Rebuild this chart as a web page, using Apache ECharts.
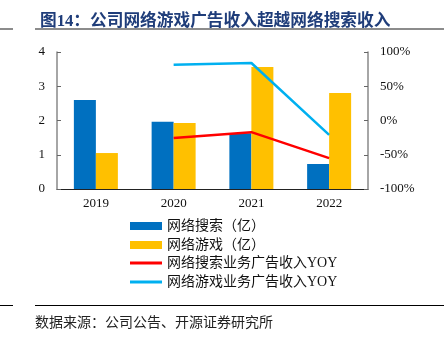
<!DOCTYPE html>
<html><head><meta charset="utf-8">
<script src="https://cdn.jsdelivr.net/npm/echarts@6/dist/echarts.min.js"></script>
<style>html,body{margin:0;padding:0;background:#fff}#c{width:444px;height:337px}</style>
</head><body><div id="c"></div>
<script>
var categories = ['2019','2020','2021','2022'];
var searchRev = [2.6, 1.96, 1.63, 0.73];
var gameRev = [1.05, 1.93, 3.56, 2.8];
var searchYoy = [null, -25.5, -17, -55];
var gameYoy = [null, 81.5, 84, -21];

var serif = '"Liberation Serif","Times New Roman","Noto Sans CJK SC",serif';
var cjk = '"Liberation Serif","Noto Sans CJK SC",serif';
var chart = echarts.init(document.getElementById('c'));
var legText = {fontFamily:cjk, fontSize:14, color:'#111'};
chart.setOption({
  animation:false,
  title:{text:'图14：公司网络游戏广告收入超越网络搜索收入', left:35, top:8,
    textStyle:{fontFamily:cjk, fontSize:16.7, fontWeight:'bold', color:'#1F3D7A'}},
  graphic:[
    {type:'rect', shape:{x:0,y:28,width:13,height:2}, style:{fill:'#8c8c8c'}},
    {type:'rect', shape:{x:35,y:28,width:409,height:2}, style:{fill:'#8c8c8c'}},
    {type:'rect', shape:{x:0,y:305,width:13,height:1}, style:{fill:'#000'}},
    {type:'rect', shape:{x:35,y:305,width:409,height:1}, style:{fill:'#000'}},
    {type:'text', left:35, top:315, style:{text:'数据来源：公司公告、开源证券研究所', font:'14px "Noto Sans CJK SC"', fill:'#222'}}
  ],
  grid:{left:57, right:76, top:52, bottom:148},
  legend:[
    {orient:'vertical', left:125, top:219, itemWidth:32, itemHeight:8, itemGap:5, padding:[0,5],
      textStyle:legText,
      data:[{name:'网络搜索（亿）',icon:'rect'},{name:'网络游戏（亿）',icon:'rect'}]},
    {orient:'vertical', left:125, top:256, itemWidth:32, itemHeight:3, itemGap:5, padding:[0,5],
      textStyle:legText,
      data:[{name:'网络搜索业务广告收入YOY',icon:'rect'},{name:'网络游戏业务广告收入YOY',icon:'rect'}]}
  ],
  xAxis:{type:'category', data:categories,
    axisLine:{lineStyle:{color:'#222', width:1}},
    axisTick:{inside:true, length:4, lineStyle:{color:'#444'}},
    axisLabel:{fontFamily:serif, fontSize:13, color:'#111', margin:8}},
  yAxis:[
    {type:'value', min:0, max:4, interval:1,
      axisLine:{show:true, lineStyle:{color:'#888', width:1.5}},
      axisTick:{show:true, inside:true, length:4, lineStyle:{color:'#666'}},
      splitLine:{show:false},
      axisLabel:{fontFamily:serif, fontSize:13, color:'#111', margin:12}},
    {type:'value', min:-100, max:100, interval:50, position:'right',
      axisLine:{show:true, lineStyle:{color:'#888', width:1.5}},
      axisTick:{show:true, inside:true, length:4, lineStyle:{color:'#666'}},
      splitLine:{show:false},
      axisLabel:{fontFamily:serif, fontSize:13, color:'#111', margin:12, formatter:'{value}%'}}
  ],
  series:[
    {name:'网络搜索（亿）', type:'bar', data:searchRev, barWidth:22, barGap:'0%', itemStyle:{color:'#0070C0'}},
    {name:'网络游戏（亿）', type:'bar', data:gameRev, barWidth:22, barGap:'0%', itemStyle:{color:'#FFC000'}},
    {name:'网络搜索业务广告收入YOY', type:'line', yAxisIndex:1, data:searchYoy, symbol:'none',
      lineStyle:{color:'#FF0000', width:2.5}, itemStyle:{color:'#FF0000'}},
    {name:'网络游戏业务广告收入YOY', type:'line', yAxisIndex:1, data:gameYoy, symbol:'none',
      lineStyle:{color:'#00B0F0', width:2.5}, itemStyle:{color:'#00B0F0'}}
  ]
});
</script></body></html>
